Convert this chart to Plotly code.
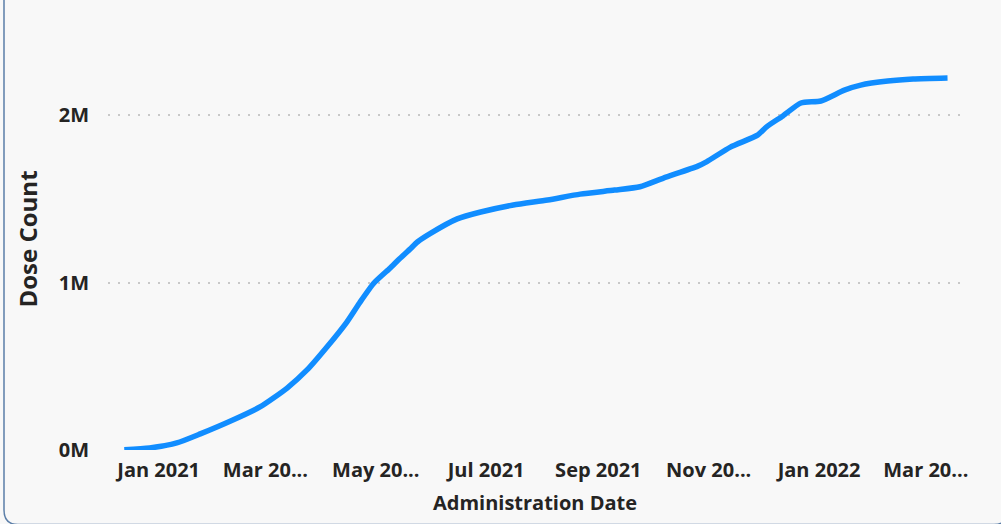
import plotly.graph_objects as go

# ---- data ----
dates = ["2020-12-13", "2020-12-27", "2021-01-11", "2021-01-24", "2021-02-11", "2021-02-26",
         "2021-03-13", "2021-03-24", "2021-04-04", "2021-04-15", "2021-04-22", "2021-04-30",
         "2021-05-09", "2021-05-14", "2021-05-20", "2021-05-24", "2021-05-31", "2021-06-15",
         "2021-06-28", "2021-07-16", "2021-08-04", "2021-08-22", "2021-09-10", "2021-09-24",
         "2021-10-07", "2021-10-26", "2021-10-31", "2021-11-13", "2021-11-28", "2021-12-03",
         "2021-12-12", "2021-12-22", "2022-01-02", "2022-01-15", "2022-01-24", "2022-02-08",
         "2022-02-22", "2022-03-13"]
dose_count = [2000, 12000, 42000, 96000, 179000, 257000,
              370000, 478000, 615000, 764000, 878000, 997000,
              1087000, 1140000, 1200000, 1242000, 1292000, 1380000,
              1421000, 1463000, 1493000, 1528000, 1552000, 1572000,
              1624000, 1695000, 1722000, 1809000, 1880000, 1930000,
              1995000, 2072000, 2084000, 2149000, 2179000, 2203000,
              2215000, 2221000]

x_tick_vals = ["2021-01-01", "2021-03-01", "2021-05-01", "2021-07-01",
               "2021-09-01", "2021-11-01", "2022-01-01", "2022-03-01"]
x_tick_text = ["Jan 2021", "Mar 20...", "May 20...", "Jul 2021",
               "Sep 2021", "Nov 20...", "Jan 2022", "Mar 20..."]
y_tick_vals = [0, 1000000, 2000000]
y_tick_text = ["0M", "1M", "2M"]

x_title = "Administration Date"
y_title = "Dose Count"

# ---- layout geometry ----
W, H = 1001, 524
L, R, T, B = 108, 962, 28, 450

def px_to_paper(px, py):
    return (px - L) / (R - L), (B - py) / (B - T)

FONT = "Open Sans"
TXT = "#252423"
BG = "#F8F8F8"

fig = go.Figure()
fig.add_trace(go.Scatter(
    x=dates, y=dose_count, mode="lines",
    line=dict(color="#118DFF", width=5.5, shape="spline", smoothing=0.6),
    hoverinfo="skip", showlegend=False,
))

def P(px, py):
    a, b = px_to_paper(px, py)
    return f"{a:.5f},{b:.5f}"
path = (f"M {P(4,-20)} L {P(4,510)} Q {P(4,524.5)} {P(18,524.5)} "
        f"L {P(994,524.5)} Q {P(1008,524.5)} {P(1008,510)} L {P(1008,-20)}")
fig.add_shape(type="path", path=path, xref="paper", yref="paper",
              line=dict(color="#5B7EA8", width=1.5), layer="above")

fig.update_layout(
    width=W, height=H,
    margin=dict(l=L, r=W - R, t=T, b=H - B, pad=0),
    paper_bgcolor=BG, plot_bgcolor=BG,
    font=dict(family=FONT, color=TXT),
    xaxis=dict(
        type="date",
        range=["2020-12-04", "2022-03-21"],
        tickvals=x_tick_vals, ticktext=x_tick_text,
        tickfont=dict(family=FONT, size=20, color=TXT, weight=700),
        ticks="outside", ticklen=2, tickcolor="rgba(0,0,0,0)",
        showgrid=False, zeroline=False, showline=False,
        title=dict(text=x_title, standoff=13,
                   font=dict(family=FONT, size=20, color=TXT, weight=700)),
    ),
    yaxis=dict(
        range=[0, 2520000],
        tickvals=y_tick_vals, ticktext=y_tick_text,
        tickfont=dict(family=FONT, size=20, color=TXT, weight=700),
        ticks="outside", ticklen=14, tickcolor="rgba(0,0,0,0)",
        showgrid=True, gridcolor="#C8C8C8", gridwidth=1.5, griddash="2px,8px",
        zeroline=False, showline=False,
        title=dict(text=y_title, standoff=14,
                   font=dict(family=FONT, size=24, color=TXT, weight=700)),
    ),
)

fig.write_html("out.html", config={"displayModeBar": False},
               post_script="document.body.style.margin='0px';document.body.style.overflow='hidden';")
